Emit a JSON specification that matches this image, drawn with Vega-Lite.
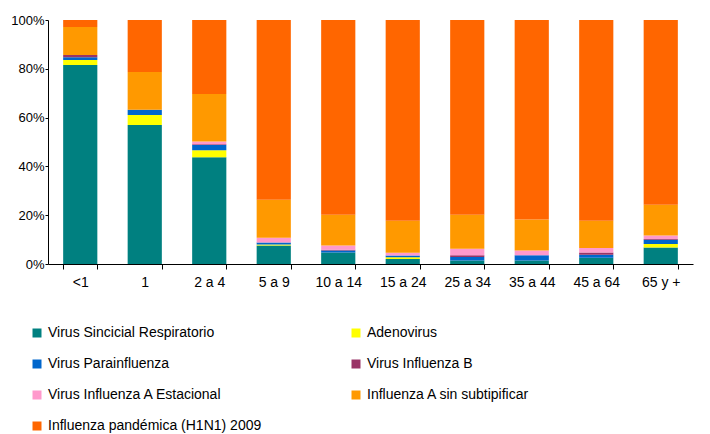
{
  "$schema": "https://vega.github.io/schema/vega-lite/v6.json",
  "autosize": "none",
  "width": 645,
  "height": 244,
  "padding": {"left": 48, "top": 20, "right": 17, "bottom": 170},
  "background": "white",
  "config": {
    "view": {"stroke": null},
    "font": "Liberation Sans",
    "axis": {"grid": false, "domainColor": "#000000", "tickColor": "#000000", "labelColor": "#000000", "labelFont": "Liberation Sans"}
  },
  "data": {
    "values": [
      {"edad": "<1", "serie": "Virus Sincicial Respiratorio", "orden": 1, "valor": 81.6},
      {"edad": "<1", "serie": "Adenovirus", "orden": 2, "valor": 2.0},
      {"edad": "<1", "serie": "Virus Parainfluenza", "orden": 3, "valor": 1.1},
      {"edad": "<1", "serie": "Virus Influenza B", "orden": 4, "valor": 1.0},
      {"edad": "<1", "serie": "Influenza A sin subtipificar", "orden": 6, "valor": 11.4},
      {"edad": "<1", "serie": "Influenza pandémica (H1N1) 2009", "orden": 7, "valor": 2.9},

      {"edad": "1", "serie": "Virus Sincicial Respiratorio", "orden": 1, "valor": 57.0},
      {"edad": "1", "serie": "Adenovirus", "orden": 2, "valor": 4.1},
      {"edad": "1", "serie": "Virus Parainfluenza", "orden": 3, "valor": 2.1},
      {"edad": "1", "serie": "Influenza A sin subtipificar", "orden": 6, "valor": 15.5},
      {"edad": "1", "serie": "Influenza pandémica (H1N1) 2009", "orden": 7, "valor": 21.3},

      {"edad": "2 a 4", "serie": "Virus Sincicial Respiratorio", "orden": 1, "valor": 43.7},
      {"edad": "2 a 4", "serie": "Adenovirus", "orden": 2, "valor": 2.9},
      {"edad": "2 a 4", "serie": "Virus Parainfluenza", "orden": 3, "valor": 2.2},
      {"edad": "2 a 4", "serie": "Virus Influenza B", "orden": 4, "valor": 0.3},
      {"edad": "2 a 4", "serie": "Virus Influenza A Estacional", "orden": 5, "valor": 1.1},
      {"edad": "2 a 4", "serie": "Influenza A sin subtipificar", "orden": 6, "valor": 19.5},
      {"edad": "2 a 4", "serie": "Influenza pandémica (H1N1) 2009", "orden": 7, "valor": 30.3},

      {"edad": "5 a 9", "serie": "Virus Sincicial Respiratorio", "orden": 1, "valor": 7.6},
      {"edad": "5 a 9", "serie": "Adenovirus", "orden": 2, "valor": 0.4},
      {"edad": "5 a 9", "serie": "Virus Parainfluenza", "orden": 3, "valor": 0.8},
      {"edad": "5 a 9", "serie": "Virus Influenza A Estacional", "orden": 5, "valor": 2.0},
      {"edad": "5 a 9", "serie": "Influenza A sin subtipificar", "orden": 6, "valor": 15.5},
      {"edad": "5 a 9", "serie": "Influenza pandémica (H1N1) 2009", "orden": 7, "valor": 73.7},

      {"edad": "10 a 14", "serie": "Virus Sincicial Respiratorio", "orden": 1, "valor": 4.7},
      {"edad": "10 a 14", "serie": "Virus Parainfluenza", "orden": 3, "valor": 0.8},
      {"edad": "10 a 14", "serie": "Virus Influenza B", "orden": 4, "valor": 0.3},
      {"edad": "10 a 14", "serie": "Virus Influenza A Estacional", "orden": 5, "valor": 1.8},
      {"edad": "10 a 14", "serie": "Influenza A sin subtipificar", "orden": 6, "valor": 12.6},
      {"edad": "10 a 14", "serie": "Influenza pandémica (H1N1) 2009", "orden": 7, "valor": 79.8},

      {"edad": "15 a 24", "serie": "Virus Sincicial Respiratorio", "orden": 1, "valor": 2.0},
      {"edad": "15 a 24", "serie": "Adenovirus", "orden": 2, "valor": 0.8},
      {"edad": "15 a 24", "serie": "Virus Parainfluenza", "orden": 3, "valor": 0.7},
      {"edad": "15 a 24", "serie": "Virus Influenza A Estacional", "orden": 5, "valor": 1.1},
      {"edad": "15 a 24", "serie": "Influenza A sin subtipificar", "orden": 6, "valor": 13.1},
      {"edad": "15 a 24", "serie": "Influenza pandémica (H1N1) 2009", "orden": 7, "valor": 82.3},

      {"edad": "25 a 34", "serie": "Virus Sincicial Respiratorio", "orden": 1, "valor": 1.4},
      {"edad": "25 a 34", "serie": "Virus Parainfluenza", "orden": 3, "valor": 1.5},
      {"edad": "25 a 34", "serie": "Virus Influenza B", "orden": 4, "valor": 0.7},
      {"edad": "25 a 34", "serie": "Virus Influenza A Estacional", "orden": 5, "valor": 2.7},
      {"edad": "25 a 34", "serie": "Influenza A sin subtipificar", "orden": 6, "valor": 13.9},
      {"edad": "25 a 34", "serie": "Influenza pandémica (H1N1) 2009", "orden": 7, "valor": 79.8},

      {"edad": "35 a 44", "serie": "Virus Sincicial Respiratorio", "orden": 1, "valor": 1.4},
      {"edad": "35 a 44", "serie": "Virus Parainfluenza", "orden": 3, "valor": 2.2},
      {"edad": "35 a 44", "serie": "Virus Influenza A Estacional", "orden": 5, "valor": 1.9},
      {"edad": "35 a 44", "serie": "Influenza A sin subtipificar", "orden": 6, "valor": 12.7},
      {"edad": "35 a 44", "serie": "Influenza pandémica (H1N1) 2009", "orden": 7, "valor": 81.8},

      {"edad": "45 a 64", "serie": "Virus Sincicial Respiratorio", "orden": 1, "valor": 2.6},
      {"edad": "45 a 64", "serie": "Virus Parainfluenza", "orden": 3, "valor": 1.2},
      {"edad": "45 a 64", "serie": "Virus Influenza B", "orden": 4, "valor": 0.9},
      {"edad": "45 a 64", "serie": "Virus Influenza A Estacional", "orden": 5, "valor": 1.9},
      {"edad": "45 a 64", "serie": "Influenza A sin subtipificar", "orden": 6, "valor": 11.1},
      {"edad": "45 a 64", "serie": "Influenza pandémica (H1N1) 2009", "orden": 7, "valor": 82.3},

      {"edad": "65 y +", "serie": "Virus Sincicial Respiratorio", "orden": 1, "valor": 6.8},
      {"edad": "65 y +", "serie": "Adenovirus", "orden": 2, "valor": 1.4},
      {"edad": "65 y +", "serie": "Virus Parainfluenza", "orden": 3, "valor": 1.7},
      {"edad": "65 y +", "serie": "Virus Influenza B", "orden": 4, "valor": 0.3},
      {"edad": "65 y +", "serie": "Virus Influenza A Estacional", "orden": 5, "valor": 1.5},
      {"edad": "65 y +", "serie": "Influenza A sin subtipificar", "orden": 6, "valor": 12.6},
      {"edad": "65 y +", "serie": "Influenza pandémica (H1N1) 2009", "orden": 7, "valor": 75.7}
    ]
  },
  "mark": {"type": "bar"},
  "encoding": {
    "x": {
      "field": "edad",
      "type": "nominal",
      "sort": ["<1", "1", "2 a 4", "5 a 9", "10 a 14", "15 a 24", "25 a 34", "35 a 44", "45 a 64", "65 y +"],
      "scale": {"paddingInner": 0.47, "paddingOuter": 0.235},
      "axis": {"title": null, "labelAngle": 0, "labelFontSize": 14, "labelPadding": 6, "tickBand": "extent", "tickSize": 5, "domainWidth": 1}
    },
    "y": {
      "field": "valor",
      "type": "quantitative",
      "stack": "normalize",
      "scale": {"domain": [0, 1], "nice": false},
      "axis": {"title": null, "format": ".0%", "values": [0, 0.2, 0.4, 0.6, 0.8, 1], "labelFontSize": 13, "tickSize": 3, "labelPadding": 1, "domainWidth": 1}
    },
    "color": {
      "field": "serie",
      "type": "nominal",
      "scale": {
        "domain": ["Virus Sincicial Respiratorio", "Adenovirus", "Virus Parainfluenza", "Virus Influenza B", "Virus Influenza A Estacional", "Influenza A sin subtipificar", "Influenza pandémica (H1N1) 2009"],
        "range": ["#008080", "#FFFF00", "#0066CC", "#993366", "#FF99CC", "#FF9900", "#FF6600"]
      },
      "legend": {
        "title": null,
        "orient": "none",
        "direction": "horizontal",
        "legendX": -18,
        "legendY": 306,
        "columns": 2,
        "columnPadding": 87,
        "rowPadding": 17,
        "symbolType": "square",
        "symbolSize": 81,
        "symbolStrokeWidth": 0,
        "labelFont": "Liberation Sans",
        "labelFontSize": 14,
        "labelColor": "#000000",
        "labelLimit": 400,
        "padding": 0
      }
    },
    "order": {"field": "orden", "type": "quantitative"}
  }
}
